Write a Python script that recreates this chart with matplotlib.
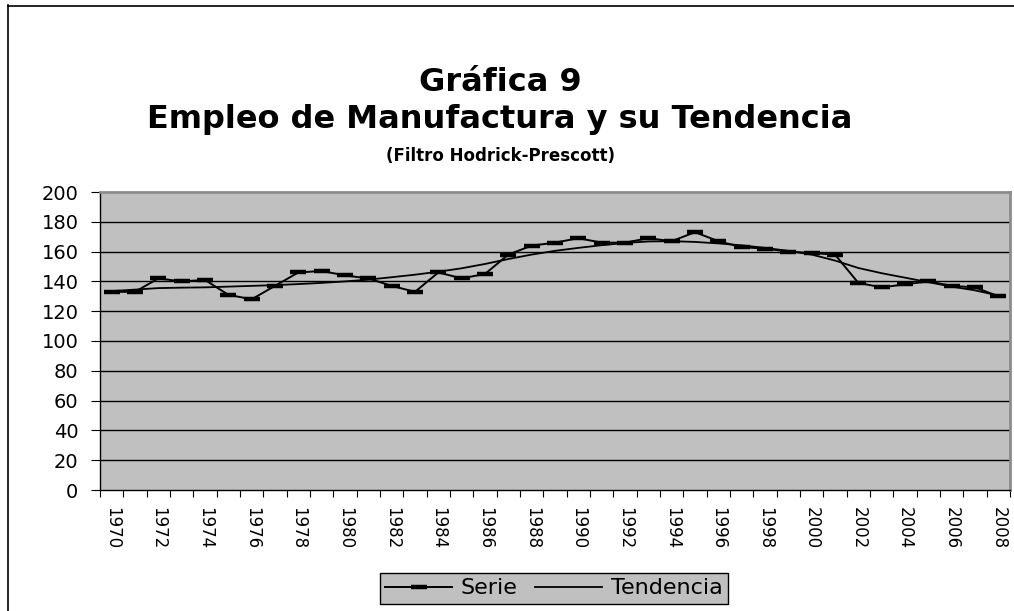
import matplotlib
matplotlib.use("Agg")
import matplotlib.pyplot as plt
from matplotlib.lines import Line2D
import numpy as np

years = list(range(1970, 2009))
serie = [133, 133, 142, 140, 141, 131, 128, 137, 146, 147, 144, 142, 137, 133,
         146, 142, 145, 158, 164, 166, 169, 166, 166, 169, 167, 173, 167, 163,
         162, 160, 159, 158, 139, 136, 138, 140, 137, 136, 130]
tendencia = [133.5, 134.5, 135.5, 135.8, 136, 136.5, 137, 137.5, 138.2, 139, 140,
             141.2, 142.8, 144.5, 146.5, 148.8, 151.7, 155, 158, 160.5, 162.5,
             164.3, 165.8, 166.8, 167, 166.5, 165.5, 164.2, 162.5, 160.5, 158,
             154, 149, 145.5, 142.5, 139.5, 136.5, 134, 130.5]
y_ticks = list(range(0, 201, 20))

W, H = 1014, 611
fig = plt.figure(figsize=(W / 100, H / 100), dpi=100)
plt.rcParams['font.family'] = ['DejaVu Sans']

L, R, T, B = 100, 1010, 192, 490
ax = fig.add_axes([L / W, 1 - B / H, (R - L) / W, (B - T) / H])
ax.set_facecolor('#C0C0C0')

x = np.arange(len(years))
ax.plot(x, serie, color='black', lw=1.4, marker='_', ms=11, mew=3.2, label='Serie', zorder=3)
ax.plot(x, tendencia, color='black', lw=1.3, label='Tendencia', zorder=3)

ax.set_xlim(-0.5, len(years) - 0.5)
ax.set_ylim(0, 200)
ax.set_yticks(y_ticks)
ax.set_yticklabels([str(v) for v in y_ticks], fontsize=14)
ax.tick_params(axis='y', direction='out', length=6.5, width=0.8, pad=9, colors='black')
for v in y_ticks[1:-1]:
    ax.axhline(v, color='black', lw=1.0, zorder=1)

ax.set_xticks(x[::2])
ax.set_xticklabels([str(y) for y in years[::2]], rotation=-90, fontsize=12, va='top', ha='center')
ax.tick_params(axis='x', which='major', length=0, pad=12)
ax.set_xticks(np.arange(-0.5, len(years), 1), minor=True)
ax.tick_params(axis='x', which='minor', direction='out', length=5, width=0.8)

for s in ['left', 'bottom']:
    ax.spines[s].set_color('black')
    ax.spines[s].set_linewidth(1.0)
for s in ['top', 'right']:
    ax.spines[s].set_color('#8c8c8c')
    ax.spines[s].set_linewidth(2.0)

# titles
cx = 500 / W
fig.text(cx, 1 - 91 / H, 'Gráfica 9', ha='center', va='baseline', fontsize=23, fontweight='bold')
fig.text(cx, 1 - 128 / H, 'Empleo de Manufactura y su Tendencia', ha='center', va='baseline',
         fontsize=23, fontweight='bold')
fig.text(cx, 1 - 161 / H, '(Filtro Hodrick-Prescott)', ha='center', va='baseline',
         fontsize=12, fontweight='bold')

# legend
leg = fig.legend(loc='center', bbox_to_anchor=(554 / W, 1 - 588.5 / H), ncol=2,
                 fontsize=16, frameon=True, fancybox=False, framealpha=1,
                 facecolor='#C0C0C0', edgecolor='black', handlelength=3.0,
                 handletextpad=0.4, columnspacing=0.8, borderpad=0.25)
leg.get_frame().set_linewidth(1.0)

# outer chart border
fig.add_artist(Line2D([7.5 / W, 7.5 / W], [0, 1 - 5 / H], color='black', lw=1.2))
fig.add_artist(Line2D([7.5 / W, 1], [1 - 5.5 / H, 1 - 5.5 / H], color='black', lw=1.2))

fig.savefig('out.png', dpi=100)
